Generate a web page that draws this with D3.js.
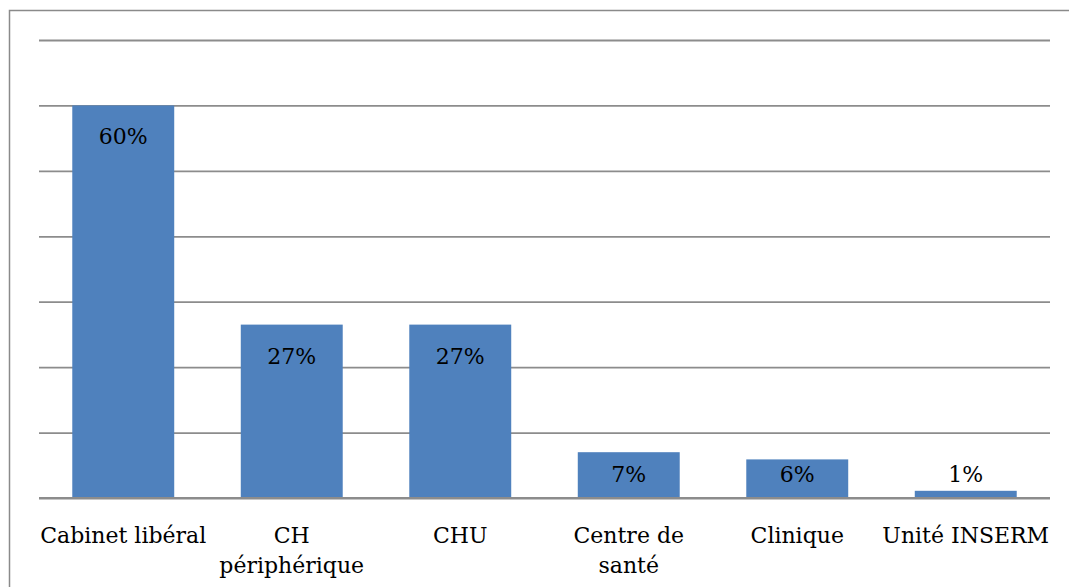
<!DOCTYPE html>
<html>
<head>
<meta charset="utf-8">
<script src="https://cdn.jsdelivr.net/npm/d3@7"></script>
<style>
  body { margin: 0; background: #fff; }
  text { font-family: "DejaVu Serif", serif; fill: #000; }
</style>
</head>
<body>
<svg id="chart" width="1069" height="587"></svg>
<script>
// data
var categories = ["Cabinet libéral", "CH périphérique", "CHU", "Centre de santé", "Clinique", "Unité INSERM"];
var values = [60, 26.5, 26.5, 7, 5.9, 1.1];
var labels = ["60%", "27%", "27%", "7%", "6%", "1%"];
var yTicks = [0, 10, 20, 30, 40, 50, 60, 70];

var svg = d3.select("#chart"),
    width = +svg.attr("width"),
    height = +svg.attr("height"),
    margin = { top: 40, right: 19, bottom: 89, left: 39 };

var data = categories.map(function (c, i) {
    return { name: c, value: values[i], label: labels[i] };
});

// outer frame (runs off the right and bottom edges like the original)
svg.append("rect")
    .attr("x", 9.5).attr("y", 10.5)
    .attr("width", width + 20).attr("height", height + 20)
    .attr("fill", "none")
    .attr("stroke", "#8a8a8a")
    .attr("stroke-width", 1.5);

var x = d3.scaleBand()
    .domain(categories)
    .range([margin.left, width - margin.right])
    .paddingInner(0.395)
    .paddingOuter(0.1975);

var y = d3.scaleLinear()
    .domain([0, 70])
    .range([height - margin.bottom, margin.top]);

// gridlines
svg.append("g")
    .attr("class", "grid")
    .attr("transform", "translate(" + margin.left + ",0)")
    .call(d3.axisLeft(y).tickValues(yTicks).tickSize(-(width - margin.left - margin.right)).tickFormat(""))
    .call(function (g) { g.select(".domain").remove(); })
    .selectAll("line")
    .attr("stroke", "#8c8c8c")
    .attr("stroke-width", 1.8);

// bars
svg.append("g").selectAll("rect")
    .data(data)
    .enter().append("rect")
    .attr("x", function (d) { return x(d.name); })
    .attr("y", function (d) { return y(d.value); })
    .attr("width", x.bandwidth())
    .attr("height", function (d) { return y(0) - y(d.value); })
    .attr("fill", "#4f81bd");

// baseline drawn again on top of bars
svg.append("line")
    .attr("x1", margin.left).attr("x2", width - margin.right)
    .attr("y1", y(0)).attr("y2", y(0))
    .attr("stroke", "#8c8c8c")
    .attr("stroke-width", 1.8);

// value labels, inside end but never below a floor near the axis
svg.append("g").selectAll("text")
    .data(data)
    .enter().append("text")
    .attr("x", function (d) { return x(d.name) + x.bandwidth() / 2; })
    .attr("y", function (d) { return Math.min(y(d.value) + 39, y(0) - 16); })
    .attr("text-anchor", "middle")
    .attr("font-size", "22px")
    .text(function (d) { return d.label; });

// category labels, wrapped to the band width
var xAxis = svg.append("g").attr("class", "xlabels");
categories.forEach(function (c) {
    var t = xAxis.append("text")
        .attr("x", x(c) + x.bandwidth() / 2)
        .attr("y", y(0) + 45)
        .attr("text-anchor", "middle")
        .attr("font-size", "22px");
    var words = c.split(" "), line = [], lineNo = 0;
    var tspan = t.append("tspan").attr("x", x(c) + x.bandwidth() / 2).attr("dy", 0);
    words.forEach(function (w) {
        line.push(w);
        tspan.text(line.join(" "));
        if (tspan.node().getComputedTextLength() > x.step() && line.length > 1) {
            line.pop();
            tspan.text(line.join(" "));
            line = [w];
            lineNo++;
            tspan = t.append("tspan").attr("x", x(c) + x.bandwidth() / 2).attr("dy", 30).text(w);
        }
    });
});
</script>
</body>
</html>
